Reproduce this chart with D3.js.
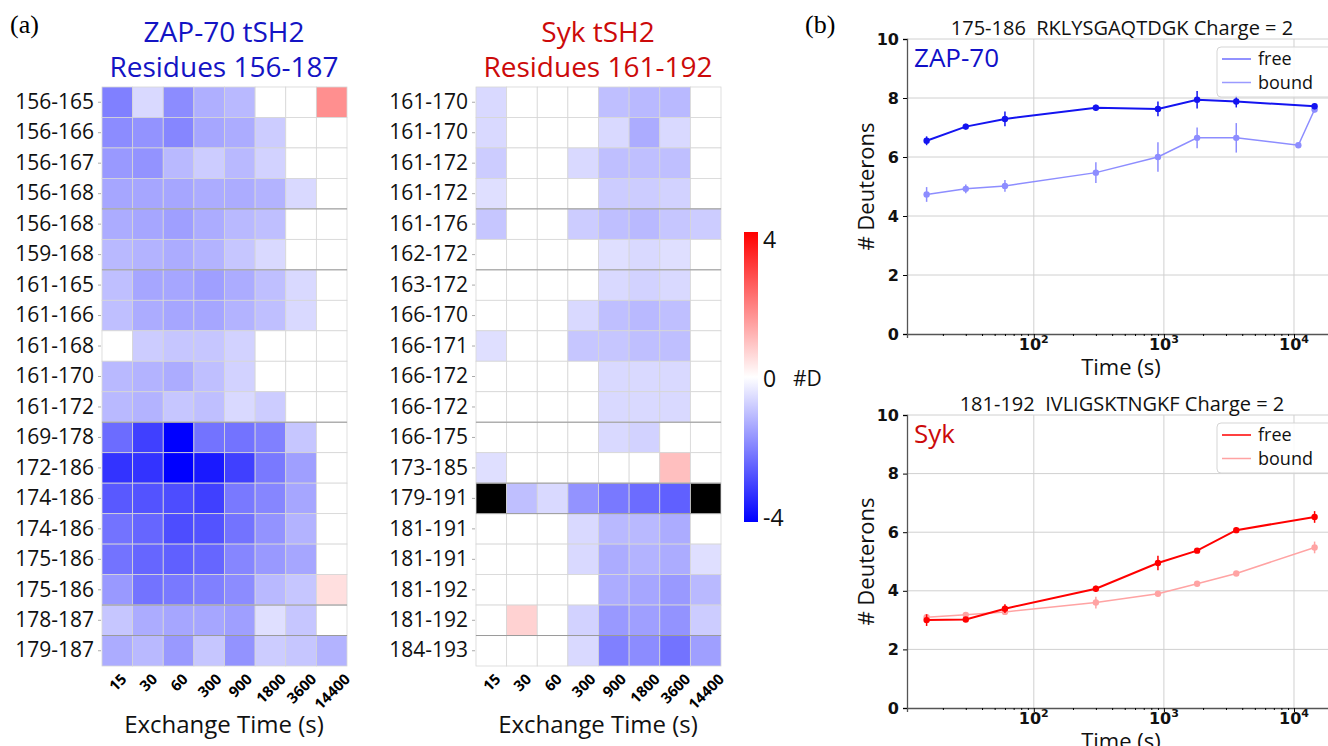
<!DOCTYPE html>
<html>
<head>
<meta charset="utf-8">
<script src="https://d3js.org/d3.v7.min.js"></script>
<style>
  body { margin: 0; background: #fff; }
  text { font-family: "Open Sans", sans-serif; }
</style>
</head>
<body>
<div id="chart"></div>
<script>
// exchange times of the heatmaps (s)
const times = ["15", "30", "60", "300", "900", "1800", "3600", "14400"];

// ZAP-70 tSH2 peptides and difference in deuteration (bound - free)
const zapPeptides = ["156-165", "156-166", "156-167", "156-168", "156-168", "159-168", "161-165",
  "161-166", "161-168", "161-170", "161-172", "169-178", "172-186", "174-186", "174-186",
  "175-186", "175-186", "178-187", "179-187"];
const zapDiff = [
  [-2.0, -0.6, -1.8, -1.25, -1.1, 0, 0, 1.75],
  [-1.8, -1.7, -1.9, -1.4, -1.3, -0.8, 0, 0],
  [-1.6, -1.7, -1.1, -0.8, -1.1, -0.7, 0, 0],
  [-1.4, -1.4, -1.4, -1.3, -1.3, -1.2, -0.6, 0],
  [-1.3, -1.4, -1.5, -1.3, -1.1, -1.0, 0, 0],
  [-1.1, -1.2, -1.3, -1.2, -0.9, -0.6, 0, 0],
  [-1.0, -1.4, -1.4, -1.5, -1.3, -1.0, -0.6, 0],
  [-1.0, -1.3, -1.4, -1.4, -1.2, -1.0, -0.6, 0],
  [0, -0.8, -0.9, -0.9, -0.7, 0, 0, 0],
  [-1.1, -1.2, -1.3, -1.0, -0.7, 0, 0, 0],
  [-1.1, -1.2, -0.9, -1.0, -0.6, -0.8, 0, 0],
  [-2.3, -3.0, -4.0, -2.2, -2.2, -2.0, -0.9, 0],
  [-3.2, -3.2, -4.0, -3.6, -3.0, -2.1, -1.5, 0],
  [-2.6, -2.7, -2.8, -3.0, -2.1, -1.9, -1.4, 0],
  [-2.2, -2.4, -2.8, -2.7, -2.2, -1.7, -1.2, 0],
  [-2.2, -2.4, -2.5, -2.4, -1.9, -1.6, -1.4, 0],
  [-1.6, -2.2, -2.1, -2.0, -1.8, -1.1, -0.9, 0.5],
  [-0.9, -1.3, -1.4, -1.4, -1.5, -0.5, -0.9, 0],
  [-1.3, -1.1, -1.6, -0.9, -1.7, -0.8, -0.9, -1.2]
];
const zapBreaks = [4, 6, 11, 17, 18];

// Syk tSH2 peptides; null = no data
const sykPeptides = ["161-170", "161-170", "161-172", "161-172", "161-176", "162-172", "163-172",
  "166-170", "166-171", "166-172", "166-172", "166-175", "173-185", "179-191", "181-191",
  "181-191", "181-192", "181-192", "184-193"];
const sykDiff = [
  [-0.6, 0, 0, 0, -1.0, -1.1, -1.1, 0],
  [-0.6, 0, 0, 0, -0.6, -1.3, -0.6, 0],
  [-0.8, 0, 0, -0.6, -1.0, -1.0, -1.0, 0],
  [-0.5, 0, 0, 0, -0.8, -0.8, -0.7, 0],
  [-0.9, 0, 0, -0.8, -1.0, -1.1, -0.9, -0.8],
  [0, 0, 0, 0, -0.5, -0.6, -0.5, 0],
  [0, 0, 0, 0, -0.6, -0.7, -0.6, 0],
  [0, 0, 0, -0.6, -1.0, -1.1, -1.0, 0],
  [-0.5, 0, 0, -0.9, -0.9, -1.0, -1.0, 0],
  [0, 0, 0, 0, -0.6, -0.6, -0.6, 0],
  [0, 0, 0, 0, -0.6, -0.6, -0.6, 0],
  [0, 0, 0, 0, -0.6, -0.7, 0, 0],
  [-0.5, 0, 0, 0, 0, 0, 1.0, 0],
  [null, -1.0, -0.6, -1.7, -2.1, -2.3, -2.5, null],
  [0, 0, 0, -0.6, -1.1, -1.1, -1.3, 0],
  [0, 0, 0, -0.6, -1.3, -1.2, -1.3, -0.5],
  [0, 0, 0, 0, -1.3, -1.4, -1.6, -1.1],
  [0, 0.7, 0, -0.7, -1.6, -1.5, -1.7, -0.8],
  [0, 0, 0, -0.6, -2.0, -1.8, -2.2, -1.5]
];
const sykBreaks = [4, 6, 11, 13, 14, 18];

// uptake curves (# deuterons vs time)
const uptakeTimes = [15, 30, 60, 300, 900, 1800, 3600, 14400];
const zapBoundTimes = [15, 30, 60, 300, 900, 1800, 3600, 10800, 14400];
const zapFree = [6.55, 7.03, 7.29, 7.67, 7.63, 7.94, 7.88, 7.72];
const zapFreeErr = [0.15, 0.1, 0.25, 0.1, 0.25, 0.3, 0.2, 0.1];
const zapBound = [4.73, 4.92, 5.02, 5.47, 6.0, 6.65, 6.65, 6.4, 7.61];
const zapBoundErr = [0.25, 0.15, 0.2, 0.35, 0.5, 0.35, 0.5, 0.05, 0.1];
const sykFree = [3.0, 3.02, 3.39, 4.07, 4.95, 5.37, 6.07, 6.52];
const sykFreeErr = [0.2, 0.05, 0.15, 0.1, 0.25, 0.05, 0.1, 0.2];
const sykBound = [3.1, 3.18, 3.28, 3.6, 3.9, 4.24, 4.59, 5.48];
const sykBoundErr = [0.1, 0.05, 0.05, 0.2, 0.05, 0.05, 0.05, 0.2];

const svg = d3.select("#chart").append("svg")
  .attr("width", 1328).attr("height", 746);

const color = d3.scaleLinear().domain([-4, 0, 4])
  .range(["#0000ff", "#ffffff", "#ff0000"]).clamp(true);

// panel letters
svg.append("text").attr("x", 10).attr("y", 33).text("(a)")
  .style("font-family", "'Liberation Serif', serif").style("font-size", "26px");
svg.append("text").attr("x", 805).attr("y", 33).text("(b)")
  .style("font-family", "'Liberation Serif', serif").style("font-size", "26px");

function heatmap(left, peptides, diff, breaks, title, titleColor) {
  const x = d3.scaleBand().domain(times).range([left, left + 245]);
  const y = d3.scaleBand().domain(d3.range(peptides.length)).range([87, 666]);
  const g = svg.append("g");

  const cells = d3.merge(diff.map((row, i) => row.map((v, j) => ({ i, t: times[j], v }))));
  g.selectAll("rect.cell").data(cells).join("rect")
    .attr("class", "cell")
    .attr("x", d => x(d.t)).attr("y", d => y(d.i))
    .attr("width", x.bandwidth()).attr("height", y.bandwidth())
    .attr("fill", d => d.v === null ? "#000" : color(d.v))
    .attr("stroke", "#d6d6d6").attr("stroke-width", 0.8);

  g.selectAll("line.brk").data(breaks).join("line")
    .attr("class", "brk")
    .attr("x1", left).attr("x2", left + 245)
    .attr("y1", d => y(d)).attr("y2", d => y(d))
    .attr("stroke", "#9a9a9a").attr("stroke-width", 1);

  const ay = g.append("g").attr("transform", `translate(${left - 1},0)`)
    .call(d3.axisLeft(y).tickSize(3).tickPadding(4).tickFormat(i => peptides[i]));
  ay.select(".domain").remove();
  ay.selectAll(".tick line").attr("stroke", "#aaa");
  ay.selectAll(".tick text").style("font-size", "21px").attr("fill", "#111")
    .style("font-family", "'Open Sans', sans-serif");

  // rotated time labels, centred under each column
  g.selectAll("text.xl").data(times).join("text")
    .attr("class", "xl")
    .text(d => d)
    .style("font-size", "15px").style("font-weight", "bold")
    .attr("text-anchor", "middle").attr("dominant-baseline", "central")
    .each(function (d) {
      const len = this.getComputedTextLength();
      const cy = 672 + (len + 11) * 0.707 / 2;
      d3.select(this).attr("transform",
        `translate(${x(d) + x.bandwidth() / 2},${cy}) rotate(-45)`);
    });

  svg.append("text").attr("x", left + 122).attr("y", 733)
    .attr("text-anchor", "middle").style("font-size", "24px").attr("fill", "#111")
    .text("Exchange Time (s)");

  title.forEach((t, k) => {
    svg.append("text").attr("x", left + 122).attr("y", 42 + k * 35)
      .attr("text-anchor", "middle").style("font-size", "28px")
      .attr("fill", titleColor).text(t);
  });
}

heatmap(102, zapPeptides, zapDiff, zapBreaks, ["ZAP-70 tSH2", "Residues 156-187"], "#1414c4");
heatmap(476, sykPeptides, sykDiff, sykBreaks, ["Syk tSH2", "Residues 161-192"], "#cc0a0a");

// colour bar
const cb = d3.scaleLinear().domain([4, -4]).range([240, 518]);
const grad = svg.append("defs").append("linearGradient")
  .attr("id", "cbar").attr("x1", 0).attr("x2", 0).attr("y1", 0).attr("y2", 1);
d3.range(4, -4.01, -0.5).forEach(v => {
  grad.append("stop").attr("offset", (4 - v) / 8).attr("stop-color", color(v));
});
svg.append("rect").attr("x", 744).attr("y", 232).attr("width", 14).attr("height", 290)
  .attr("fill", "url(#cbar)");
const acb = svg.append("g").attr("transform", "translate(760,0)")
  .call(d3.axisRight(cb).tickValues([4, 0, -4]).tickSize(0).tickPadding(3).tickFormat(d => String(d)));
acb.select(".domain").remove();
acb.selectAll(".tick text").style("font-size", "23px").attr("fill", "#111")
  .style("font-family", "'Open Sans', sans-serif");
svg.append("text").attr("x", 793).attr("y", cb(0)).attr("dy", "0.35em")
  .style("font-size", "21px").attr("fill", "#111").text("#D");

function uptake(top, bottom, title, label, labelColor, series) {
  const x = d3.scaleLog().domain([10.6, 20300]).range([907, 1334]);
  const y = d3.scaleLinear().domain([0, 10]).range([bottom, top]);
  const g = svg.append("g");

  // grid
  g.selectAll("line.gy").data([2, 4, 6, 8, 10]).join("line")
    .attr("x1", 907).attr("x2", 1334).attr("y1", d => y(d)).attr("y2", d => y(d))
    .attr("stroke", "#d0d0d0");
  g.selectAll("line.gx").data([100, 1000, 10000]).join("line")
    .attr("class", "gx")
    .attr("x1", d => x(d)).attr("x2", d => x(d)).attr("y1", top).attr("y2", bottom)
    .attr("stroke", "#d0d0d0");

  // axes
  const ax = g.append("g").attr("transform", `translate(0,${bottom})`)
    .call(d3.axisBottom(x).tickValues([100, 1000, 10000]).tickSize(4).tickFormat(""));
  const minor = x.ticks().filter(v => Math.abs(Math.log10(v) % 1) > 1e-6);
  g.append("g").attr("transform", `translate(0,${bottom})`)
    .call(d3.axisBottom(x).tickValues(minor).tickSize(2).tickFormat(""))
    .select(".domain").remove();
  ax.select(".domain").attr("stroke", "#555").attr("stroke-width", 1.3);
  [100, 1000, 10000].forEach(v => {
    const t = g.append("text").attr("x", x(v)).attr("y", bottom + 16)
      .attr("text-anchor", "middle")
      .style("font-family", "'DejaVu Sans', sans-serif").style("font-weight", "bold")
      .style("font-size", "16px").attr("fill", "#111");
    t.append("tspan").text("10");
    t.append("tspan").attr("dy", -7).style("font-size", "11px").text(Math.log10(v));
  });

  const ayx = g.append("g").attr("transform", "translate(907,0)")
    .call(d3.axisLeft(y).tickValues([0, 2, 4, 6, 8, 10]).tickSize(4).tickPadding(4));
  ayx.select(".domain").attr("stroke", "#555").attr("stroke-width", 1.3);
  ayx.selectAll(".tick text").style("font-family", "'DejaVu Sans', sans-serif")
    .style("font-weight", "bold").style("font-size", "16px").attr("fill", "#111");

  svg.append("text")
    .attr("transform", `translate(874,${(top + bottom) / 2}) rotate(-90)`)
    .attr("text-anchor", "middle").style("font-size", "22px").attr("fill", "#111")
    .text("# Deuterons");
  svg.append("text").attr("x", 1121).attr("y", bottom + 41)
    .attr("text-anchor", "middle").style("font-size", "22px").attr("fill", "#111")
    .text("Time (s)");
  svg.append("text").attr("x", 1122).attr("y", top - 4)
    .attr("text-anchor", "middle").style("font-size", "20px").attr("fill", "#111")
    .attr("xml:space", "preserve").text(title);
  svg.append("text").attr("x", 914).attr("y", top + 28)
    .style("font-size", "26px").attr("fill", labelColor).text(label);

  // series: bound drawn first, free on top
  series.slice().reverse().forEach(s => {
    const pts = s.t.map((t, k) => ({ t, v: s.v[k], e: s.e[k] }));
    g.append("path").datum(pts)
      .attr("fill", "none").attr("stroke", s.color).attr("stroke-width", s.width)
      .attr("d", d3.line().x(d => x(d.t)).y(d => y(d.v)));
    g.selectAll(null).data(pts).join("line")
      .attr("x1", d => x(d.t)).attr("x2", d => x(d.t))
      .attr("y1", d => y(d.v - d.e)).attr("y2", d => y(d.v + d.e))
      .attr("stroke", s.color).attr("stroke-width", 1.5);
    g.selectAll(null).data(pts).join("circle")
      .attr("cx", d => x(d.t)).attr("cy", d => y(d.v)).attr("r", 3.2)
      .attr("fill", s.color);
  });

  // legend
  const lg = g.append("g").attr("transform", `translate(1217,${top + 8})`);
  lg.append("rect").attr("width", 125).attr("height", 50).attr("rx", 4)
    .attr("fill", "#fff").attr("fill-opacity", 0.85).attr("stroke", "#d5d5d5");
  series.forEach((s, k) => {
    lg.append("line").attr("x1", 5).attr("x2", 34)
      .attr("y1", 12 + k * 23.5).attr("y2", 12 + k * 23.5)
      .attr("stroke", s.legendColor).attr("stroke-width", 1.5);
    lg.append("text").attr("x", 41).attr("y", 12 + k * 23.5).attr("dy", "0.35em")
      .style("font-size", "18px").attr("fill", "#111").text(s.name);
  });
}

uptake(39, 334, "175-186  RKLYSGAQTDGK Charge = 2", "ZAP-70", "#1010c8", [
  { name: "free", t: uptakeTimes, v: zapFree, e: zapFreeErr, color: "#1414f0", width: 2, legendColor: "#6e6eff" },
  { name: "bound", t: zapBoundTimes, v: zapBound, e: zapBoundErr, color: "#8d8dff", width: 1.5, legendColor: "#9a9aff" }
]);
uptake(415, 708, "181-192  IVLIGSKTNGKF Charge = 2", "Syk", "#cc0a0a", [
  { name: "free", t: uptakeTimes, v: sykFree, e: sykFreeErr, color: "#ff0000", width: 2, legendColor: "#ff0000" },
  { name: "bound", t: uptakeTimes, v: sykBound, e: sykBoundErr, color: "#ffa3a3", width: 1.5, legendColor: "#ffa3a3" }
]);
</script>
</body>
</html>
